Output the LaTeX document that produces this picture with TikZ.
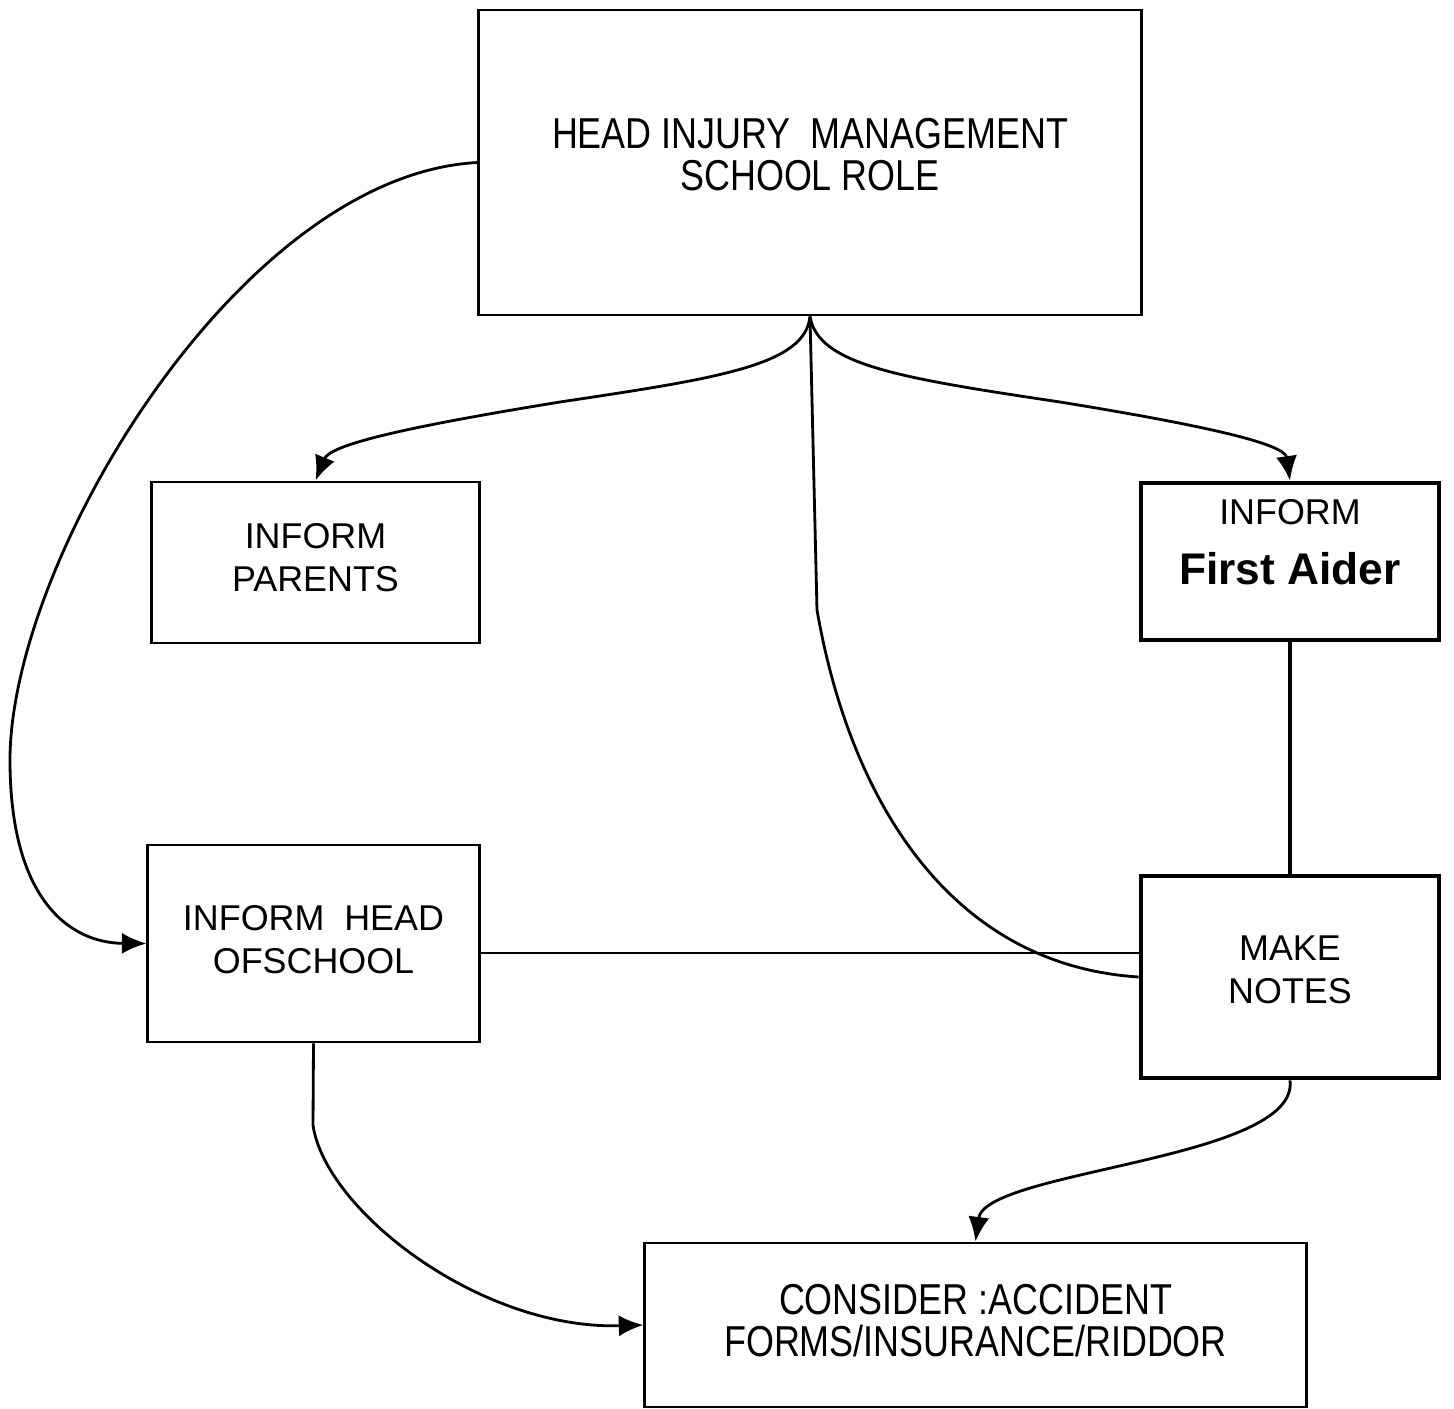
\documentclass[tikz,border=0pt]{standalone}
\usepackage{fontspec}
\setmainfont{Liberation Sans}
\newfontfamily\narrowfont[FakeStretch=0.83]{Liberation Sans}
\usetikzlibrary{arrows.meta}

\begin{document}
\begin{tikzpicture}[x=0.01cm, y=-0.01cm,
  box/.style={draw, line width=0.8pt, align=center, inner sep=0pt,
    font=\fontsize{10.2}{12.2}\selectfont},
  widebox/.style={box, font=\narrowfont\fontsize{12.3}{12}\selectfont},
  heavybox/.style={box, line width=1.3pt},
  link/.style={line width=0.8pt},
  arrow/.style={link, -{Latex[length=7pt,width=6pt]}}]
  \useasboundingbox (0,0) rectangle (1454,1409);

  \node[widebox, minimum width=6.62cm, minimum height=3.05cm, text depth=4.7pt] (title) at (810,162.5)
    {HEAD INJURY\ \ MANAGEMENT\\SCHOOL ROLE};
  \node[box, minimum width=3.27cm, minimum height=1.61cm, text depth=3pt] (parents) at (315.5,562.5)
    {INFORM\\PARENTS};
  \node[heavybox, minimum width=2.98cm, minimum height=1.57cm, text depth=11pt] (firstaid) at (1290,561.5)
    {INFORM\\[5pt]{\fontsize{12.6}{14}\selectfont\bfseries First Aider}};
  \node[box, minimum width=3.31cm, minimum height=1.97cm, text depth=2.5pt] (headsch) at (313.5,943.5)
    {INFORM\ \ HEAD\\OFSCHOOL};
  \node[heavybox, minimum width=2.98cm, minimum height=2.02cm, text depth=4pt] (notes) at (1290,977)
    {MAKE\\NOTES};
  \node[widebox, minimum width=6.61cm, minimum height=1.64cm, text depth=2.5pt] (consider) at (975.5,1325)
    {CONSIDER :ACCIDENT\\FORMS/INSURANCE/RIDDOR};

  \draw[arrow] (title.south) .. controls (805,365) and (720,378) .. (560,402)
    .. controls (400,428) and (330,445) .. (parents.north);
  \draw[arrow] (title.south) .. controls (818,365) and (900,378) .. (1060,402)
    .. controls (1220,428) and (1285,445) .. (firstaid.north);
  \draw[link] (title.south) -- (817,610) .. controls (850,800) and (950,965) .. (notes.west);
  \draw[arrow] (title.west) .. controls (240,175) and (10,560) .. (10,760)
    .. controls (10,900) and (70,943) .. (headsch.west);
  \draw[link] ([yshift=-2.7pt]headsch.east) -- ([yshift=-2.7pt]headsch.east -| notes.west);
  \draw[line width=1.3pt] (firstaid.south) -- (notes.north);
  \draw[arrow] (notes.south) .. controls (1300,1160) and (985,1170) .. (consider.north);
  \draw[arrow] (headsch.south) -- (313,1125) .. controls (325,1210) and (480,1330) .. (consider.west);
\end{tikzpicture}
\end{document}
